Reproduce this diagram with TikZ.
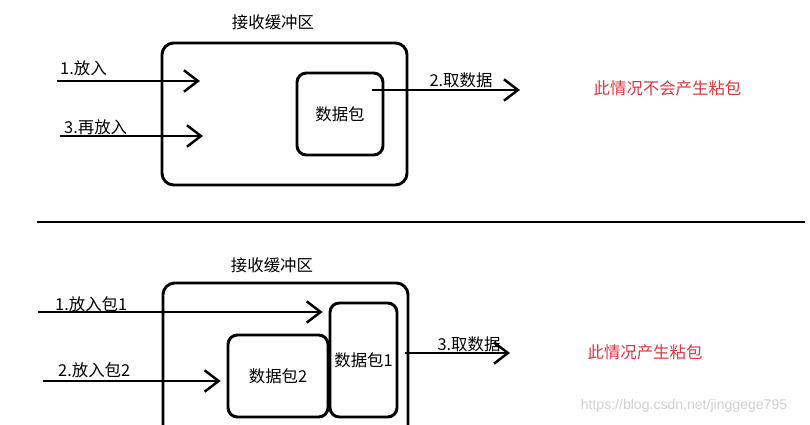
\documentclass[tikz,border=0pt]{standalone}
\usepackage{fontspec}
\usepackage{xcolor}
\usepackage{tikz}
\usetikzlibrary{arrows.meta}
\newfontfamily\cjk{Noto Sans CJK SC}
\newfontfamily\wmfont{Liberation Sans}
\definecolor{nbred}{RGB}{222, 52, 62}
\definecolor{nbgray}{RGB}{208, 208, 208}

\begin{document}
\begin{tikzpicture}[x=0.03cm, y=-0.03cm,
        box/.style={rectangle, rounded corners=8pt, draw, line width=2.5pt,
                    inner sep=1pt, align=center, font=\cjk\fontsize{14}{16}\selectfont},
        arr/.style={-{Straight Barb[length=0.42cm, width=0.64cm]}, line width=2.1pt},
        lbl/.style={font=\cjk\fontsize{14}{16}\selectfont, inner sep=0pt},
        note/.style={lbl, text=nbred},
      ]
        \useasboundingbox (0,0) rectangle (810,425);
        \clip (0,0) rectangle (810,425);

        \node[lbl] (title1) at (273,22) {接收缓冲区};
        \node[box, rounded corners=10pt, minimum width=7.35cm, minimum height=4.26cm]
              (buf1) at (284.5,114) {};
        \node[box, minimum width=2.58cm, minimum height=2.46cm] (pkt) at (340,114) {数据包};
        \coordinate (in1)  at (57,81);
        \coordinate (in1e) at (200,81);
        \coordinate (in3)  at (60,136);
        \coordinate (in3e) at (203,136);
        \coordinate (out2)  at (372,90);
        \coordinate (out2e) at (520,90);
        \draw[arr] (in1)--(in1e);
        \draw[arr] (in3)--(in3e);
        \draw[arr] (out2)--(out2e);
        \node[lbl, anchor=west] (put1) at (60,68)  {1.放入};
        \node[lbl, anchor=west] (put3) at (64,127) {3.再放入};
        \node[lbl] (take2) at (461,80) {2.取数据};
        \node[note] (ok) at (667.5,88) {此情况不会产生粘包};

        \coordinate (sepL) at (37,222);
        \coordinate (sepR) at (805,222);
        \draw[line width=2.4pt] (sepL)--(sepR);

        \node[lbl] (title2) at (272,265) {接收缓冲区};
        \node[box, rounded corners=10pt, minimum width=7.35cm, minimum height=4.86cm]
              (buf2) at (285.5,364) {};
        \node[box, minimum width=2.01cm, minimum height=3.42cm] (pkt1) at (363.5,360) {数据包1};
        \node[box, minimum width=3.0cm, minimum height=2.46cm] (pkt2) at (278,376) {数据包2};
        \coordinate (inA)  at (38,312);
        \coordinate (inB)  at (43,381);
        \coordinate (outC)  at (405,353);
        \coordinate (outCe) at (510,353);
        \draw[arr] (inA)--([xshift=-5]pkt1.west |- inA);
        \draw[arr] (inB)--([xshift=-5]pkt2.west |- inB);
        \draw[arr] (outC)--(outCe);
        \node[lbl, anchor=west] (putA) at (55,304)  {1.放入包1};
        \node[lbl, anchor=west] (putB) at (58,370)  {2.放入包2};
        \node[lbl] (takeC) at (469,344) {3.取数据};
        \node[note] (bad) at (645,352) {此情况产生粘包};

        \node[font=\wmfont\fontsize{12}{14}\selectfont, text=nbgray, inner sep=0pt]
              (mark) at (684,406) {https://blog.csdn.net/jinggege795};
      \end{tikzpicture}
\end{document}
